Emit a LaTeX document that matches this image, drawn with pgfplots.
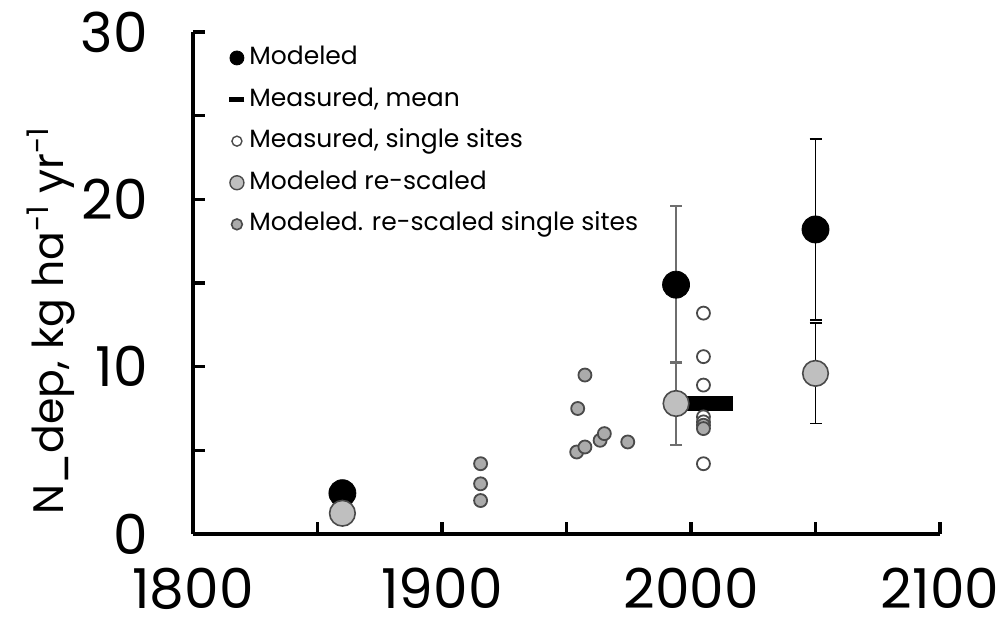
\documentclass[border=0pt]{standalone}
\usepackage{fontspec}
\setmainfont{Poppins}
\usepackage{pgfplots}
\pgfplotsset{compat=1.18}

\definecolor{gbig}{HTML}{BFBFBF}
\definecolor{gsmall}{HTML}{ABABAB}
\definecolor{edge}{HTML}{4A4A4A}
\definecolor{barline}{HTML}{6E6E6E}

\begin{document}
\begin{tikzpicture}
\begin{axis}[
  at={(0,0)}, anchor=south west,
  scale only axis, width=373.5pt, height=251pt,
  xmin=1800, xmax=2100, ymin=0, ymax=30,
  axis lines*=left,
  axis line style={line width=1.6pt, -},
  tick align=inside, major tick length=6pt,
  tick style={line width=1.6pt, black},
  xtick={1800,1850,...,2100}, xticklabels={1800,,1900,,2000,,2100},
  ytick={0,5,...,30}, yticklabels={0,,10,,20,,30},
  /pgf/number format/assume math mode=true,
  ticklabel style={font=\fontsize{27.5}{30}\selectfont},
  xticklabel style={yshift=-13.5pt},
  yticklabel style={xshift=-19pt},
  ylabel={N\_dep, kg ha\textsuperscript{-1} yr\textsuperscript{-1}},
  ylabel style={at={(axis description cs:-0.19,0.425)}, anchor=center,
    font=\fontsize{21.3}{24}\selectfont},
  clip=false,
  legend style={at={(axis description cs:0.039,0.98)}, anchor=north west,
    draw=none, fill=none, font=\fontsize{12.5}{14}\selectfont,
    row sep=9.3pt, nodes={inner sep=0pt, text height=9pt, text depth=2.5pt}},
  legend cell align=left,
  % marker centred at the origin, with room reserved on both sides
  legend image code/.code={%
    \path (-4pt,0pt) (6pt,0pt);
    \draw[mark repeat=1,#1] plot coordinates {(0pt,0pt)};},
  error bars/error mark=-,
]

% legend entries
\addlegendimage{only marks, mark=*, mark size=3.5pt, black}
\addlegendimage{only marks, mark=-, mark size=3.75pt, mark options={line width=2.6pt, black}}
\addlegendimage{only marks, mark=*, mark size=2.5pt, mark options={fill=white, draw=edge, line width=0.7pt}}
\addlegendimage{only marks, mark=*, mark size=3.5pt, mark options={fill=gbig, draw=edge, line width=0.7pt}}
\addlegendimage{only marks, mark=*, mark size=2.7pt, mark options={fill=gsmall, draw=edge, line width=0.8pt}}
\legend{Modeled, {Measured, mean}, {Measured, single sites}, Modeled re-scaled, Modeled. re-scaled single sites}

% modeled
\addplot[only marks, mark=*, mark size=6.75pt, black, forget plot]
  coordinates {(1860,2.44)};
\addplot[only marks, mark=*, mark size=6.75pt, black, forget plot,
  error bars/.cd, y dir=both, y explicit,
  error bar style={line width=0.9pt, barline},
  error mark options={rotate=90, line width=0.9pt, mark size=3pt, barline}]
  coordinates {(1994,14.9) +- (0,4.7)};
\addplot[only marks, mark=*, mark size=6.75pt, black, forget plot,
  error bars/.cd, y dir=both, y explicit,
  error bar style={line width=0.9pt, black},
  error mark options={rotate=90, line width=0.9pt, mark size=3pt, black}]
  coordinates {(2050,18.2) +- (0,5.4)};

% measured, mean
\addplot[only marks, mark=-, mark size=14.25pt, forget plot,
  mark options={line width=7.5pt, black}]
  coordinates {(2005.5,7.8)};

% measured, single sites
\addplot[only marks, mark=*, mark size=3.25pt, forget plot,
  mark options={fill=white, draw=edge, line width=0.9pt}]
  coordinates {(2005,13.2) (2005,10.6) (2005,8.9) (2005,7.0) (2005,6.7) (2005,4.2)};

% modeled re-scaled
\addplot[only marks, mark=*, mark size=6.4pt, forget plot,
  mark options={fill=gbig, draw=edge, line width=0.8pt}]
  coordinates {(1860,1.24)};
\addplot[only marks, mark=*, mark size=6.4pt, forget plot,
  mark options={fill=gbig, draw=edge, line width=0.8pt},
  error bars/.cd, y dir=both, y explicit,
  error bar style={line width=0.9pt, barline},
  error mark options={rotate=90, line width=0.9pt, mark size=3pt, barline}]
  coordinates {(1994,7.8) +- (0,2.5)};
\addplot[only marks, mark=*, mark size=6.4pt, forget plot,
  mark options={fill=gbig, draw=edge, line width=0.8pt},
  error bars/.cd, y dir=both, y explicit,
  error bar style={line width=0.9pt, black},
  error mark options={rotate=90, line width=0.9pt, mark size=3pt, black}]
  coordinates {(2050,9.6) +- (0,3.0)};

% modeled, re-scaled single sites
\addplot[only marks, mark=*, mark size=3.25pt, forget plot,
  mark options={fill=gsmall, draw=edge, line width=0.9pt}]
  coordinates {
    (1915.5,4.2) (1915.5,3.0) (1915.5,2.0)
    (1957.4,9.5) (1954.5,7.5) (1954.1,4.9) (1957.4,5.2)
    (1963.5,5.6) (1965.2,6.0) (1974.6,5.5)
    (2005,6.5) (2005,6.3)};

\end{axis}
\pgfresetboundingbox
\path (-96.5pt,-46.5pt) rectangle (406pt,267pt);
\end{tikzpicture}
\end{document}
